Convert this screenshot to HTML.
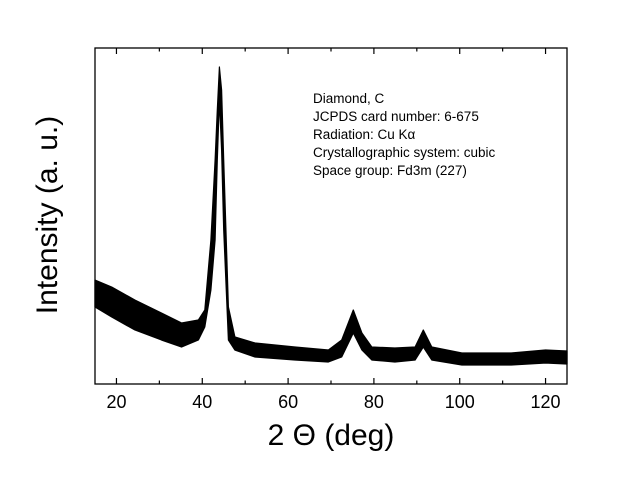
<!DOCTYPE html>
<html><head><meta charset="utf-8"><style>
html,body{margin:0;padding:0;background:#fff;}
svg{display:block;font-family:"Liberation Sans",Arial,sans-serif;}
</style></head><body>
<svg id="chart" width="630" height="480" viewBox="0 0 630 480" xmlns="http://www.w3.org/2000/svg">
<rect x="0" y="0" width="630" height="480" fill="#fff"/>
<g id="series"></g>
<g id="axes"></g>
<rect x="95" y="48" width="472" height="336" fill="none" stroke="#000" stroke-width="1.3"/>
<text x="331" y="445" font-size="30" text-anchor="middle">2 Θ (deg)</text>
<text transform="translate(57,215) rotate(-90)" font-size="30" text-anchor="middle">Intensity (a. u.)</text>
<g font-size="13.5">
<text x="313" y="103">Diamond, C</text>
<text x="313" y="121">JCPDS card number: 6-675</text>
<text x="313" y="139">Radiation: Cu Kα</text>
<text x="313" y="157">Crystallographic system: cubic</text>
<text x="313" y="175">Space group: Fd3m (227)</text>
</g>
</svg>
<script>
// data: 2-theta (deg), noise envelope upper/lower intensity (a.u., 0..336)
const twoTheta = [15,18.9,24.3,30.5,35.2,39.1,40.6,42,43,43.5,44,44.5,45,46.1,47.6,52.3,61.6,69.4,72.5,75.2,77.2,79.5,84.9,89.6,91.5,93.5,100.5,112,120,125];
const upperEnv = [104,97,84,71,61,64,74,144,224,274,317,294,224,77,47,41,37,34,44,74,51,37,36,37,54,37,31,31,34,33];
const lowerEnv = [77,67,54,44,37,44,57,94,144,224,284,234,154,44,34,27,24,22,27,51,34,24,22,24,37,24,19,19,21,20];
const xTicks = [20,40,60,80,100,120];
const xMinor = [30,50,70,90,110];

const NS = "http://www.w3.org/2000/svg";
const X0=95, X1=567, Y0=384, Y1=48, XMIN=15, XMAX=125, YMAX=336;
function sx(v){return X0+(v-XMIN)/(XMAX-XMIN)*(X1-X0);}
function sy(v){return Y0-(v/YMAX)*(Y0-Y1);}

const series = document.getElementById('series');
let pts = [];
for(let i=0;i<twoTheta.length;i++) pts.push(sx(twoTheta[i]).toFixed(1)+','+sy(upperEnv[i]).toFixed(1));
for(let i=twoTheta.length-1;i>=0;i--) pts.push(sx(twoTheta[i]).toFixed(1)+','+sy(lowerEnv[i]).toFixed(1));
const band = document.createElementNS(NS,'polygon');


band.setAttribute('points', pts.join(' '));
band.setAttribute('fill', '#000');
band.setAttribute('stroke', '#000');
band.setAttribute('stroke-width', '1.2');
band.setAttribute('stroke-linejoin', 'round');
series.appendChild(band);

const axes = document.getElementById('axes');
function line(x1,y1,x2,y2,name){
  const l=document.createElementNS(NS,'line');
  
  
  l.setAttribute('x1',x1);l.setAttribute('y1',y1);l.setAttribute('x2',x2);l.setAttribute('y2',y2);
  l.setAttribute('stroke','#000');l.setAttribute('stroke-width','1.2');
  axes.appendChild(l);
}
xTicks.forEach(v=>{
  const x=sx(v);
  line(x,Y0,x,Y0-6,'x-major-tick');
  line(x,Y1,x,Y1+6,'x-top-major-tick');
  const t=document.createElementNS(NS,'text');
  
  
  t.setAttribute('x',x);t.setAttribute('y',408);
  t.setAttribute('font-size','18');t.setAttribute('text-anchor','middle');
  t.textContent=v;
  axes.appendChild(t);
});
xMinor.forEach(v=>{
  const x=sx(v);
  line(x,Y0,x,Y0-3.5,'x-minor-tick');
  line(x,Y1,x,Y1+3.5,'x-top-minor-tick');
});
</script>
</body></html>
